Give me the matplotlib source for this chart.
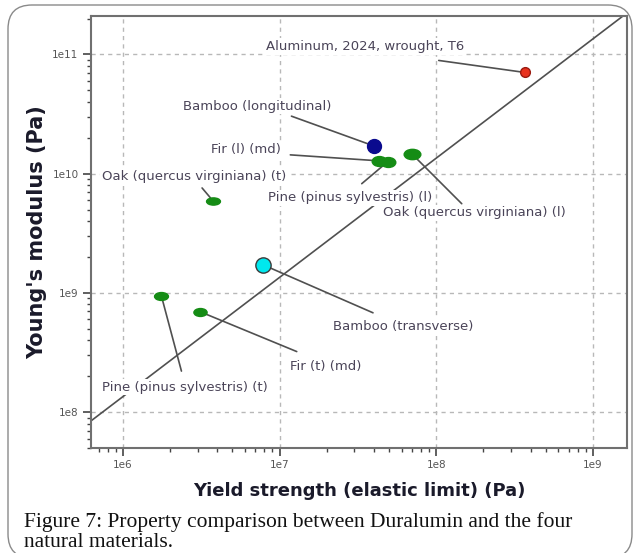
import numpy as np
import matplotlib
matplotlib.use("Agg")
import matplotlib.pyplot as plt
from matplotlib.path import Path
from matplotlib.transforms import Affine2D, IdentityTransform
from matplotlib.patches import FancyBboxPatch
from matplotlib.ticker import LogLocator, NullFormatter, FixedLocator

# ---------------- data ----------------
materials = [
    "Aluminum, 2024, wrought, T6",
    "Bamboo (longitudinal)",
    "Fir (l) (md)",
    "Oak (quercus virginiana) (t)",
    "Pine (pinus sylvestris) (l)",
    "Oak (quercus virginiana) (l)",
    "Bamboo (transverse)",
    "Fir (t) (md)",
    "Pine (pinus sylvestris) (t)",
]
yield_strength = [3.67e8, 4.03e7, 4.33e7, 3.76e6, 4.9e7, 6.97e7, 7.83e6, 3.09e6, 1.76e6]   # Pa
youngs_modulus = [7.06e10, 1.70e10, 1.28e10, 5.9e9, 1.26e10, 1.47e10, 1.72e9, 6.97e8, 9.4e8]  # Pa
guide_ratio = 135.0            # E / sigma guideline
x_ticks = [1e6, 1e7, 1e8, 1e9]
x_tick_labels = ["1e6", "1e7", "1e8", "1e9"]
y_ticks = [1e8, 1e9, 1e10, 1e11]
y_tick_labels = ["1e8", "1e9", "1e10", "1e11"]

# ---------------- styles / layout ----------------
W, H, DPI = 638, 553, 100
fig = plt.figure(figsize=(W / DPI, H / DPI), dpi=DPI)
ax = fig.add_axes([91 / W, 1 - 448 / H, (627 - 91) / W, (448 - 16) / H])
ax.set_xscale("log")
ax.set_yscale("log")
xlim = (6.25e5, 1.65e9)
ax.set_xlim(*xlim)
ax.set_ylim(5.0e7, 2.1e11)

def ellipse_marker(sx, sy):
    return Path.unit_circle().transformed(Affine2D().scale(sx, sy))

green = "#158c15"
# (face, edge, marker-path, size)
marker_styles = [
    ("#e8321e", "#9a1a10", "o", 7.0),
    ("#0a0a8e", "#0a0a8e", "o", 10.0),
    (green, green, ellipse_marker(1, 0.68), 10.5),
    (green, green, ellipse_marker(1, 0.52), 10.0),
    (green, green, ellipse_marker(1, 0.68), 10.5),
    (green, green, ellipse_marker(1, 0.62), 12.0),
    ("#00e8ee", "#3a3a3a", "o", 11.0),
    (green, green, ellipse_marker(1, 0.6), 9.5),
    (green, green, ellipse_marker(1, 0.57), 10.0),
]
# text centre and leader start, pixel offsets from the point (x right, y up)
label_layout = [
    ((-160, 26), (-86, 12)),
    ((-117, 40), (-83, 30)),
    ((-133, 11), (-89, 6)),
    ((-19, 24), (-11, 13)),
    ((-38, -36), (-26, -22)),
    ((63, -59), (50, -50)),
    ((140, -62), (110, -48)),
    ((126, -55), (97, -40)),
    ((23, -91), (20, -75)),
]

# grid
ax.grid(True, which="major", color="#b8b8b8", linestyle=(0, (3, 3)), linewidth=1.0, zorder=0)
ax.set_axisbelow(True)

# guideline
gx = np.array(xlim)
ax.plot(gx, guide_ratio * gx, color="#505050", lw=1.2, zorder=1)

label_color = "#4a4458"
for name, xv, yv, (fc, ec, mk, ms), (toff, loff) in zip(
        materials, yield_strength, youngs_modulus, marker_styles, label_layout):
    ax.annotate("", xy=(xv, yv), xytext=loff, textcoords="offset pixels",
                arrowprops=dict(arrowstyle="-", color="#505050", lw=1.2,
                                shrinkA=0, shrinkB=0), zorder=2)
    ax.annotate(name, xy=(xv, yv), xytext=toff, textcoords="offset pixels",
                ha="center", va="center", fontsize=9.5, color=label_color,
                family="DejaVu Sans",
                bbox=dict(boxstyle="square,pad=0.12", fc="white", ec="none"),
                zorder=3)
    ax.plot([xv], [yv], linestyle="none", marker=mk, markersize=ms,
            markerfacecolor=fc, markeredgecolor=ec, markeredgewidth=1.0, zorder=5)

# ticks
ax.xaxis.set_major_locator(FixedLocator(x_ticks))
ax.yaxis.set_major_locator(FixedLocator(y_ticks))
ax.set_xticklabels(x_tick_labels)
ax.set_yticklabels(y_tick_labels)
ax.xaxis.set_minor_locator(LogLocator(base=10, subs=np.arange(2, 10), numticks=20))
ax.yaxis.set_minor_locator(LogLocator(base=10, subs=np.arange(2, 10), numticks=20))
ax.xaxis.set_minor_formatter(NullFormatter())
ax.yaxis.set_minor_formatter(NullFormatter())
ax.tick_params(which="major", direction="out", length=6, width=1.2, color="#444",
               labelsize=7.5, labelcolor="#555", pad=3)
ax.tick_params(which="minor", direction="out", length=3, width=1.0, color="#444")
for s in ax.spines.values():
    s.set_color("#707070")
    s.set_linewidth(1.5)

ax.set_xlabel("Yield strength (elastic limit) (Pa)", fontsize=13, fontweight="bold",
              color="#1a1a2a", labelpad=8)
ax.set_ylabel("Young's modulus (Pa)", fontsize=15, fontweight="bold",
              color="#1a1a2a", labelpad=4)

# caption
fig.text(24 / W, 1 - 527 / H, "Figure 7: Property comparison between Duralumin and the four",
         family="Liberation Serif", fontsize=15.5, color="#111", va="baseline")
fig.text(24 / W, 1 - 547 / H, "natural materials.",
         family="Liberation Serif", fontsize=15.5, color="#111", va="baseline")

# outer rounded frame (pixel coordinates)
frame = FancyBboxPatch((8, -5), 624, H - 5 + 5, boxstyle="round,pad=0,rounding_size=24",
                       transform=IdentityTransform(), fill=False, ec="#8a8a8a", lw=1.0,
                       figure=fig)
fig.patches.append(frame)

fig.savefig("out.png", dpi=DPI)
